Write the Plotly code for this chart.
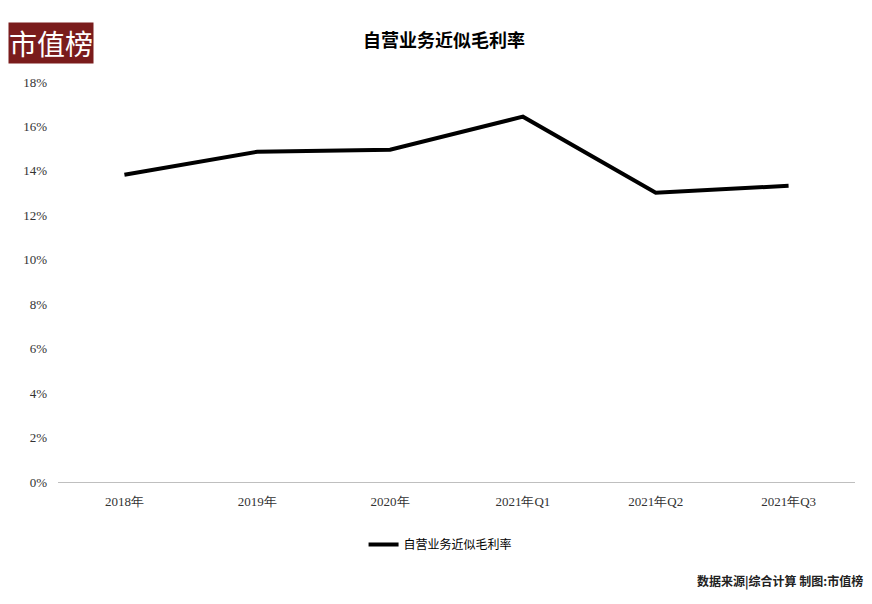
import plotly.graph_objs as go

categories = ['2018年', '2019年', '2020年', '2021年Q1', '2021年Q2', '2021年Q3']
margin_rate = [0.1383, 0.1486, 0.1495, 0.1644, 0.1302, 0.1333]
series_name = '自营业务近似毛利率'

serif = 'Noto Sans CJK SC, serif'

fig = go.Figure(data=[go.Scatter(x=categories, y=margin_rate, mode='lines',
                                 name=series_name,
                                 line=dict(color='black', width=4))])

fig.update_layout(
    width=872, height=604,
    paper_bgcolor='white', plot_bgcolor='white',
    margin=dict(l=50, r=25, t=74, b=130, autoexpand=False),
    title=dict(text='<b>自营业务近似毛利率</b>', x=0.5, y=0.957, xanchor='center',
               font=dict(family=serif, size=18, color='black')),
    xaxis=dict(range=[-0.5, 5.5], showgrid=False, showline=True, linecolor='#bfbfbf',
               ticks='', ticklabelstandoff=7, automargin=False,
               tickfont=dict(family='Liberation Serif', size=13, color='#333')),
    yaxis=dict(range=[0, 0.18], dtick=0.02, tickformat='.0%', showgrid=False,
               zeroline=False, ticks='', automargin=False, ticklabelstandoff=10,
               tickfont=dict(family='Liberation Serif', size=13, color='#333')),
    showlegend=True,
    legend=dict(orientation='h', x=0.48, xanchor='center', y=-0.12, yanchor='top',
                font=dict(family=serif, size=12, color='black')),
)

fig.add_annotation(text='市值榜', xref='paper', yref='paper', x=0, y=1, xshift=-50,
                   yshift=60, xanchor='left', yanchor='top', showarrow=False,
                   bgcolor='#7a1c1c', font=dict(family=serif, size=28, color='white'),
                   borderpad=0)
fig.add_annotation(text='<b>数据来源|综合计算 制图:市值榜</b>', xref='paper', yref='paper',
                   x=1, y=0, xshift=10, yshift=-110, xanchor='right', yanchor='bottom',
                   showarrow=False, font=dict(family=serif, size=12, color='#222'))

fig.write_html('out.html')
